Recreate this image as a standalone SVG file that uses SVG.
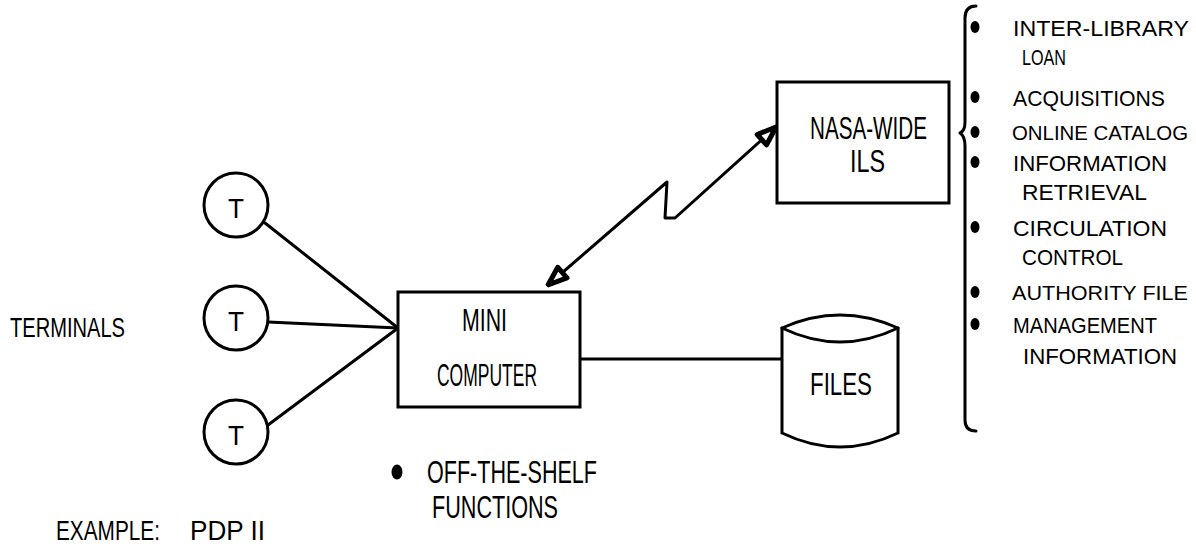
<svg xmlns="http://www.w3.org/2000/svg" width="1196" height="547" viewBox="0 0 1196 547">
<style>
  .ln { fill: none; stroke: #000; stroke-width: 3; stroke-linejoin: round; stroke-linecap: round; }
  .box { fill: #fff; stroke: #000; stroke-width: 3; }
  .t { font-family: "Liberation Sans", Arial, sans-serif; fill: #000; }
  .lbl { font-size: 28px; }
  .big { font-size: 31px; }
  .li { font-size: 22px; }
  .li2 { font-size: 20px; }
  .dot { fill: #000; }
</style>
<defs>
  <marker id="ah" viewBox="0 0 24 20" refX="22" refY="10" markerWidth="24" markerHeight="20" markerUnits="userSpaceOnUse" orient="auto-start-reverse">
    <path d="M3,3 L22,10 L3,17 Z" fill="#fff" stroke="#000" stroke-width="5" stroke-linejoin="round"/>
  </marker>
</defs>
<rect width="1196" height="547" fill="#fff"/>

<g id="connectors">
  <line class="ln" x1="265" y1="223" x2="398" y2="328"/>
  <line class="ln" x1="268" y1="322" x2="398" y2="328"/>
  <line class="ln" x1="268" y1="425" x2="398" y2="328"/>
  <line class="ln" x1="580" y1="359" x2="782" y2="359"/>
  <path class="ln" d="M548,285 L667,182 L665,218 L675,218 L776,127" marker-start="url(#ah)" marker-end="url(#ah)"/>
</g>

<g id="terminal1">
  <circle class="box" cx="236" cy="205" r="32"/>
  <text class="t lbl" x="236" y="218" text-anchor="middle" textLength="16" lengthAdjust="spacingAndGlyphs">T</text>
</g>
<g id="terminal2">
  <circle class="box" cx="236" cy="318" r="32"/>
  <text class="t lbl" x="236" y="331" text-anchor="middle" textLength="16" lengthAdjust="spacingAndGlyphs">T</text>
</g>
<g id="terminal3">
  <circle class="box" cx="236" cy="432" r="32"/>
  <text class="t lbl" x="236" y="445" text-anchor="middle" textLength="16" lengthAdjust="spacingAndGlyphs">T</text>
</g>

<g id="terminals-label">
  <text class="t lbl" x="10" y="337" textLength="115" lengthAdjust="spacingAndGlyphs">TERMINALS</text>
</g>

<g id="mini-computer">
  <rect class="box" x="398" y="292" width="182" height="115"/>
  <text class="t big" x="462" y="331" textLength="45" lengthAdjust="spacingAndGlyphs">MINI</text>
  <text class="t big" x="437" y="386" textLength="100" lengthAdjust="spacingAndGlyphs">COMPUTER</text>
</g>

<g id="nasa-ils">
  <rect class="box" x="777" y="82" width="172" height="121"/>
  <text class="t big" x="810" y="139" textLength="117" lengthAdjust="spacingAndGlyphs">NASA-WIDE</text>
  <text class="t big" x="850" y="172" textLength="35" lengthAdjust="spacingAndGlyphs">ILS</text>
</g>

<g id="files">
  <path class="box" d="M782,328 Q840,302 898,328 L898,433 Q840,461 782,433 Z"/>
  <path class="ln" d="M782,328 Q840,356 898,328"/>
  <text class="t big" x="810" y="395" textLength="62" lengthAdjust="spacingAndGlyphs">FILES</text>
</g>

<g id="ils-functions">
  <path class="ln" d="M976,6 Q965,6 965,18 L965,122 Q965,131 960,133 Q965,136 965,146 L965,420 Q965,431 976,431"/>
  <ellipse class="dot" cx="975" cy="27" rx="4.5" ry="6"/>
  <ellipse class="dot" cx="975" cy="97" rx="4.5" ry="6"/>
  <ellipse class="dot" cx="975" cy="132" rx="4.5" ry="6"/>
  <ellipse class="dot" cx="975" cy="162" rx="4.5" ry="6"/>
  <ellipse class="dot" cx="975" cy="227" rx="4.5" ry="6"/>
  <ellipse class="dot" cx="975" cy="292" rx="4.5" ry="6"/>
  <ellipse class="dot" cx="975" cy="324" rx="4.5" ry="6"/>
  <text class="t li" x="1013" y="36" textLength="176" lengthAdjust="spacingAndGlyphs">INTER-LIBRARY</text>
  <text class="t li" x="1022" y="65" textLength="44" lengthAdjust="spacingAndGlyphs">LOAN</text>
  <text class="t li" x="1013" y="106" textLength="152" lengthAdjust="spacingAndGlyphs">ACQUISITIONS</text>
  <text class="t li2" x="1012" y="140" textLength="176" lengthAdjust="spacingAndGlyphs">ONLINE CATALOG</text>
  <text class="t li" x="1013" y="171" textLength="154" lengthAdjust="spacingAndGlyphs">INFORMATION</text>
  <text class="t li" x="1022" y="200" textLength="125" lengthAdjust="spacingAndGlyphs">RETRIEVAL</text>
  <text class="t li" x="1013" y="236" textLength="154" lengthAdjust="spacingAndGlyphs">CIRCULATION</text>
  <text class="t li" x="1022" y="265" textLength="101" lengthAdjust="spacingAndGlyphs">CONTROL</text>
  <text class="t li2" x="1012" y="300" textLength="176" lengthAdjust="spacingAndGlyphs">AUTHORITY FILE</text>
  <text class="t li" x="1013" y="333" textLength="144" lengthAdjust="spacingAndGlyphs">MANAGEMENT</text>
  <text class="t li" x="1023" y="364" textLength="154" lengthAdjust="spacingAndGlyphs">INFORMATION</text>
</g>

<g id="off-the-shelf">
  <ellipse class="dot" cx="397" cy="472" rx="5.5" ry="7.5"/>
  <text class="t big" x="427" y="483" textLength="170" lengthAdjust="spacingAndGlyphs">OFF-THE-SHELF</text>
  <text class="t big" x="432" y="518" textLength="126" lengthAdjust="spacingAndGlyphs">FUNCTIONS</text>
</g>

<g id="example">
  <text class="t lbl" x="56" y="540" textLength="104" lengthAdjust="spacingAndGlyphs">EXAMPLE:</text>
  <text class="t lbl" x="190" y="540" textLength="75" lengthAdjust="spacingAndGlyphs">PDP II</text>
</g>
</svg>
